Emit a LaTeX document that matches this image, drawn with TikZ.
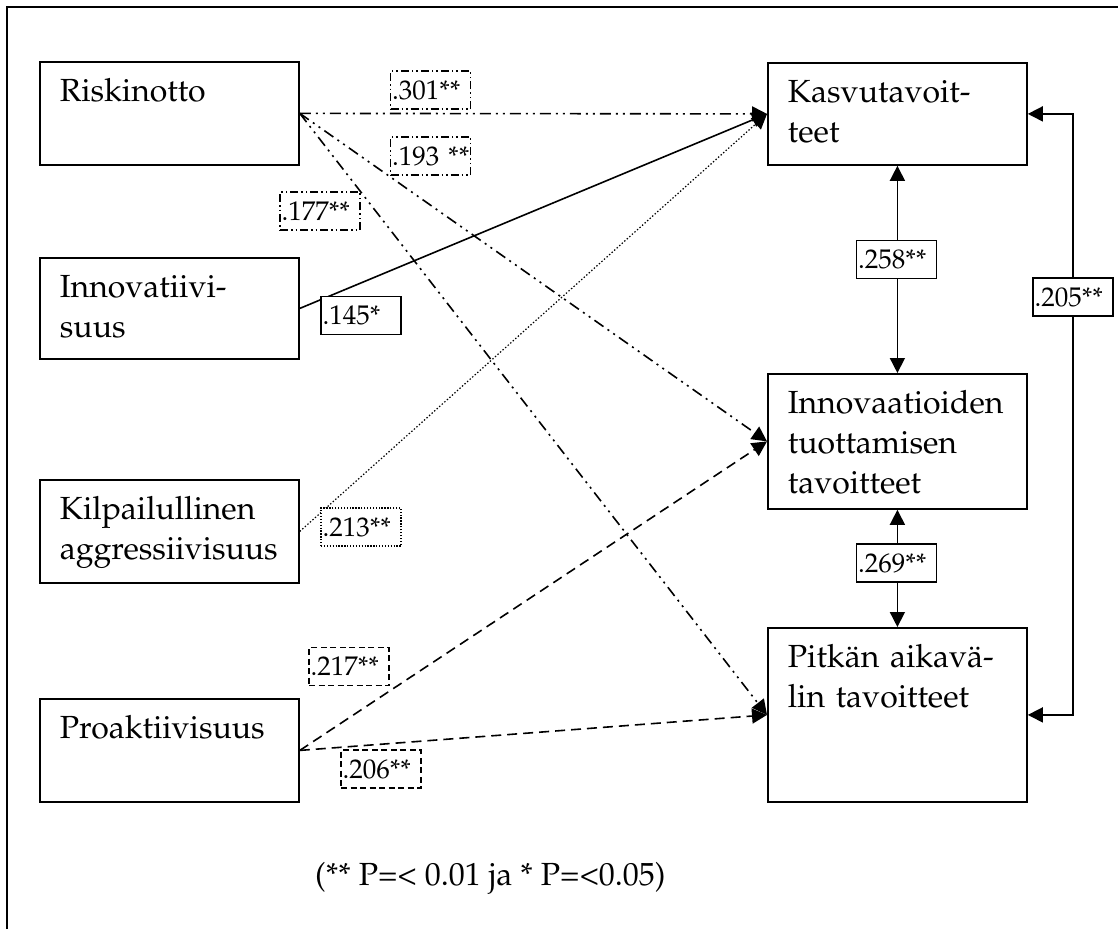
\documentclass[tikz,border=0pt]{standalone}
\usepackage[T1]{fontenc}
\renewcommand{\rmdefault}{ppl}
\usetikzlibrary{arrows.meta}

\begin{document}
\begin{tikzpicture}[x=1pt, y=-1pt,
  concept/.style={draw, line width=1.8pt, anchor=north west,
    inner xsep=20pt, inner ysep=0pt, text width=219pt,
    text height=40pt, align=left,
    font=\fontsize{32}{40}\selectfont},
  coef/.style={draw, fill=white, line width=1.6pt,
    inner xsep=1.5pt, inner ysep=0pt, text width=77pt,
    minimum height=38pt, align=left,
    font=\fontsize{27}{30}\selectfont},
  link/.style={line width=1.6pt},
  arr/.style={-{Triangle[length=15pt,width=15pt]}},
  biarr/.style={{Triangle[length=15pt,width=15pt]}-{Triangle[length=15pt,width=15pt]}},
  dashdotdot/.style={dash pattern=on 11pt off 5pt on 2pt off 5pt on 2pt off 5pt},
  longdash/.style={dash pattern=on 10pt off 6pt},
  finedot/.style={dash pattern=on 1.4pt off 2pt, line width=1.2pt},
  smalldashdotdot/.style={dash pattern=on 8pt off 3pt on 1.5pt off 3pt on 1.5pt off 3pt},
  smalldash/.style={dash pattern=on 6pt off 3.5pt},
  smalldot/.style={dash pattern=on 1.3pt off 1.6pt, line width=1.3pt}
]
\useasboundingbox (0,0) rectangle (1118,929);

% outer frame (top and left edges)
\draw[line width=1.8pt] (7,929) -- (7,7) -- (1118,7);

% explanatory variables
\node[concept, text depth=63pt] (risk)  at (39,61)  {Riskinotto};
\node[concept, text depth=61pt] (innov) at (39,257) {Innovatiivi-\\suus};
\node[concept, text depth=63pt] (kilp)  at (39,479) {Kilpailullinen\\aggressiivisuus};
\node[concept, text depth=63pt] (proak) at (39,698) {Proaktiivisuus};

% goals
\node[concept, text depth=62pt]  (kasvu)  at (767,62)  {Kasvutavoit-\\teet};
\node[concept, text depth=95pt]  (innot)  at (767,373) {Innovaatioiden\\tuottamisen\\tavoitteet};
\node[concept, text depth=134pt] (pitkan) at (767,627) {Pitkän aikavä-\\lin tavoitteet};

% paths
\draw[link, dashdotdot, arr] (risk.east) -- (kasvu.west);
\draw[link, dashdotdot, arr] (risk.east) -- (innot.west);
\draw[link, dashdotdot, arr] (risk.east) -- (pitkan.west);
\draw[link, arr] (innov.east) -- (kasvu.west);
\draw[link, finedot, arr] (kilp.east) -- (kasvu.west);
\draw[link, longdash, arr] (proak.east) -- (innot.west);
\draw[link, longdash, arr] (proak.east) -- (pitkan.west);

% correlations between goals
\coordinate (loop) at (1073,400);
\draw[link, biarr] (kasvu.south) -- (innot.north);
\draw[link, biarr] (innot.south) -- (pitkan.north);
\draw[link, biarr] (kasvu.east) -| (loop) |- (pitkan.east);

% coefficients
\node[coef, smalldashdotdot] (c301) at (430.5,90)  {.301**};
\node[coef, smalldashdotdot] (c193) at (430.5,156) {\mbox{.193 **}};
\node[coef, smalldashdotdot] (c177) at (320,211)   {.177**};
\node[coef]                  (c145) at (361,315.5) {.145*};
\node[coef, smalldot]        (c213) at (361,527)   {.213**};
\node[coef, smalldash]       (c217) at (349,666.5) {.217**};
\node[coef, smalldash]       (c206) at (381,769)   {.206**};
\node[coef] (c258) at (896.5,259.5) {.258**};
\node[coef] (c269) at (896.5,563)   {.269**};
\node[coef] (c205) at (1073,297)    {.205**};

% significance note
\node[anchor=base west, inner sep=0pt, font=\fontsize{32}{38}\selectfont]
  (note) at (315,885) {(** P=< 0.01 ja * P=<0.05)};
\end{tikzpicture}
\end{document}
